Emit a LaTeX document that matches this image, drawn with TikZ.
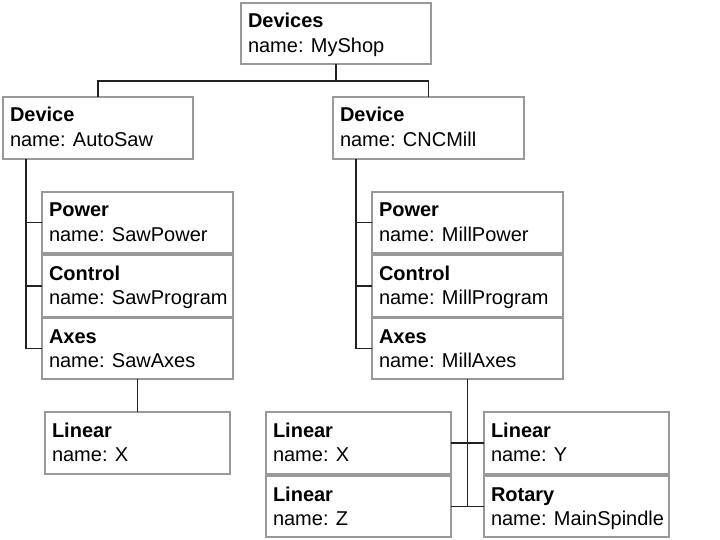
\documentclass[tikz,border=0pt]{standalone}
\usepackage{fontspec}
\setmainfont{Liberation Sans}
\definecolor{boxgray}{HTML}{999999}
\definecolor{linedark}{HTML}{222222}
\newcommand{\ubox}[7]{%
  \node[boxst, minimum width={#4-#2}, minimum height={#5-#3}, anchor=north west] (#1) at (#2,#3) {};
  \node[txt, font=\fontsize{20}{25}\selectfont\bfseries] (#1-t) at (#2+7,#3+25) {#6};
  \node[txt] (#1-n) at (#2+7,#3+49.5) {name: #7};
}
\begin{document}
\begin{tikzpicture}[x=1pt,y=-1pt,
  boxst/.style={draw=boxgray, line width=1.3pt, fill=white, rectangle, inner sep=0pt, outer sep=0pt},
  txt/.style={anchor=base west, inner sep=0pt, outer sep=0pt, font=\fontsize{20}{25}\selectfont},
  conn/.style={draw=linedark, line width=1.1pt}]
\useasboundingbox (0,0) rectangle (720,540);
\ubox{devices}{241}{3}{431}{64}{Devices}{MyShop}
\ubox{autosaw}{3}{97}{193}{159}{Device}{AutoSaw}
\ubox{cncmill}{333}{97}{524}{159}{Device}{CNCMill}
\ubox{sawpower}{42}{192}{233}{253}{Power}{SawPower}
\ubox{sawcontrol}{42}{255}{233}{317}{Control}{SawProgram}
\ubox{sawaxes}{42}{318}{233}{379}{Axes}{SawAxes}
\ubox{sawx}{45}{412}{230}{474}{Linear}{X}
\ubox{millpower}{372}{192}{563}{253}{Power}{MillPower}
\ubox{millcontrol}{372}{255}{563}{317}{Control}{MillProgram}
\ubox{millaxes}{372}{318}{563}{379}{Axes}{MillAxes}
\ubox{millx}{266}{412}{451}{474}{Linear}{X}
\ubox{millz}{266}{476}{451}{537}{Linear}{Z}
\ubox{milly}{484}{412}{669}{474}{Linear}{Y}
\ubox{rotary}{484}{476}{669}{537}{Rotary}{MainSpindle}
% top level
\coordinate (split) at ([yshift=-17pt]devices.south);
\draw[conn] (devices.south) -- (split) -| (autosaw.north);
\draw[conn] (split) -| (cncmill.north);
% saw bus
\coordinate (sawbus) at ([xshift=23pt]autosaw.south west);
\draw[conn] (sawbus) |- (sawaxes.west);
\draw[conn] (sawbus) |- (sawpower.west);
\draw[conn] (sawbus) |- (sawcontrol.west);
\draw[conn] (sawaxes.south) -- (sawx.north);
% mill bus
\coordinate (millbus) at ([xshift=23pt]cncmill.south west);
\draw[conn] (millbus) |- (millaxes.west);
\draw[conn] (millbus) |- (millpower.west);
\draw[conn] (millbus) |- (millcontrol.west);
% mill axes
\draw[conn] (millaxes.south) |- (millz.east);
\draw[conn] (millaxes.south) |- (rotary.west);
\draw[conn] (millx.east) -- (milly.west);
\end{tikzpicture}
\end{document}
